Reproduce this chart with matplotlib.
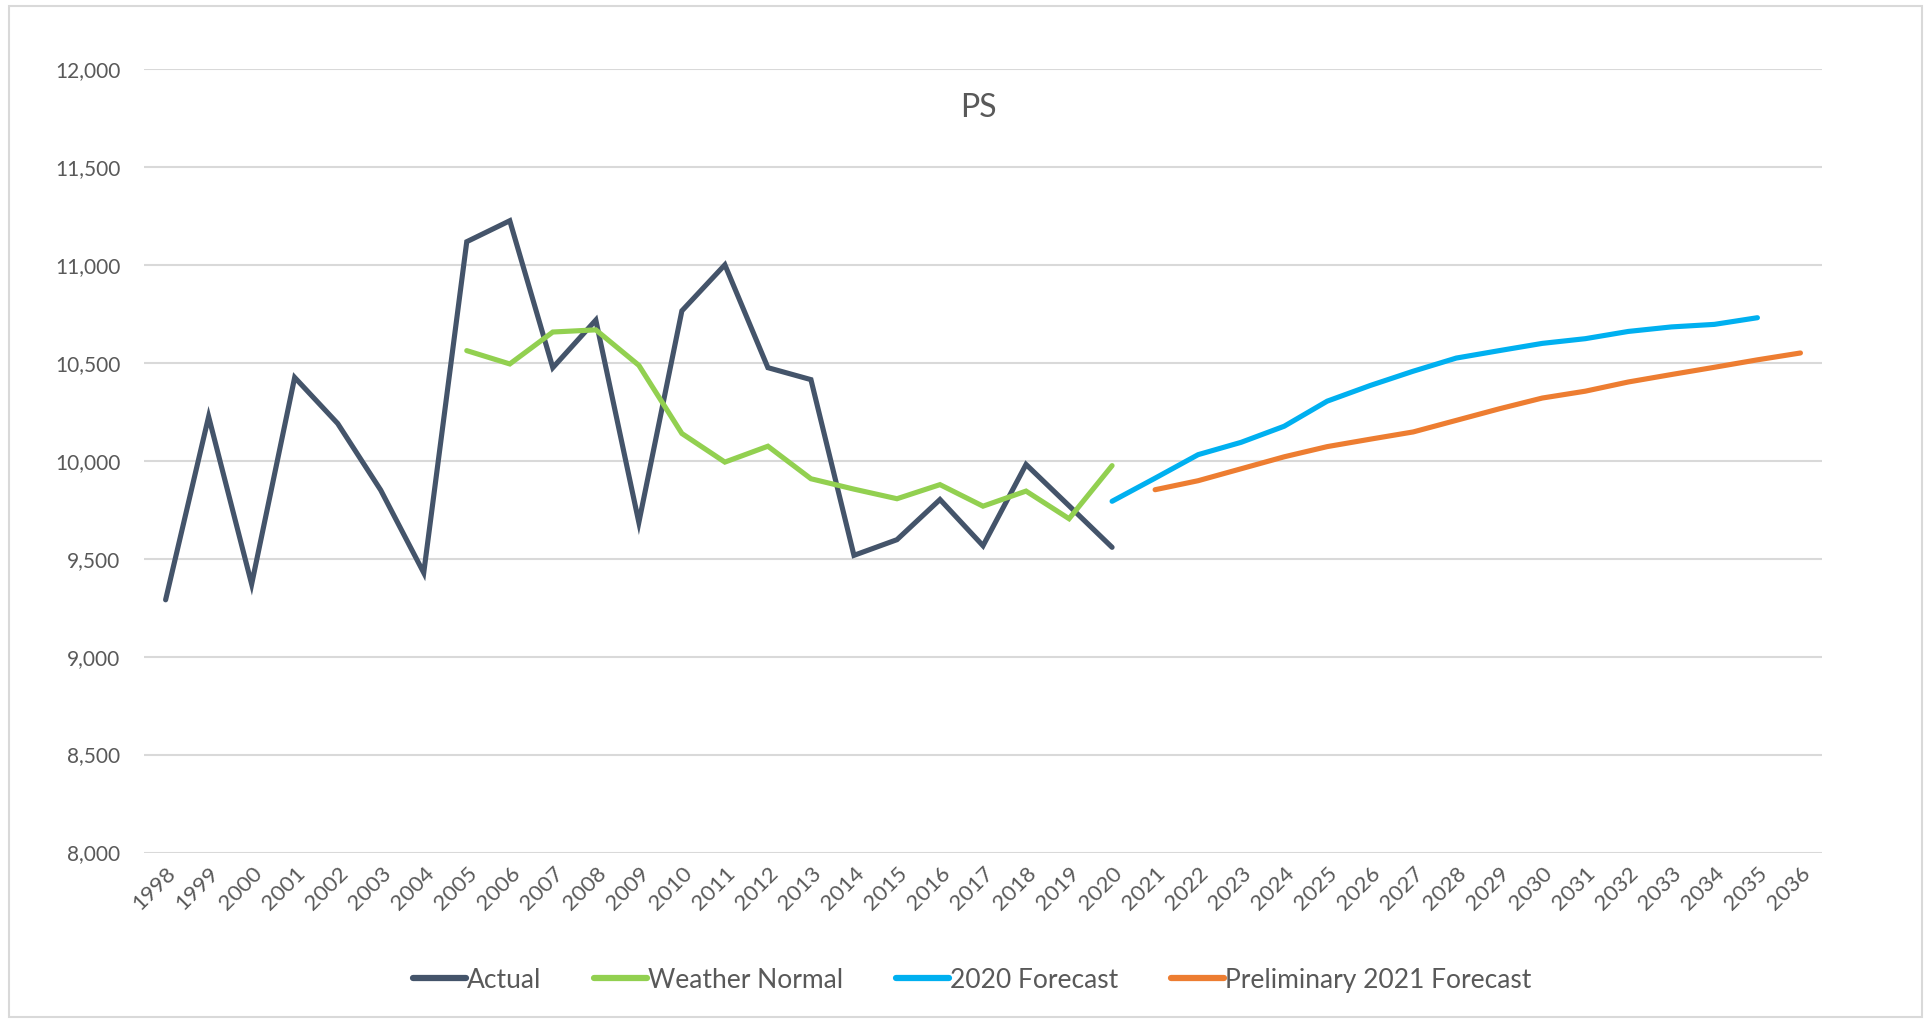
import numpy as np
import matplotlib
matplotlib.use("Agg")
import matplotlib.pyplot as plt
from matplotlib.patches import Rectangle

plt.rcParams['font.family'] = ['Lato', 'DejaVu Sans']

years = list(range(1998, 2037))

actual_years = list(range(1998, 2021))
actual = [9290, 10225, 9370, 10425, 10190, 9850, 9428, 11118, 11225, 10475,
          10718, 9685, 10765, 11000, 10475, 10414, 9517, 9597, 9802, 9566,
          9981, 9770, 9558]

normal_years = list(range(2005, 2021))
weather_normal = [10562, 10494, 10657, 10668, 10487, 10139, 9993, 10074, 9908,
                  9855, 9806, 9878, 9768, 9845, 9704, 9975]

f2020_years = list(range(2020, 2036))
forecast_2020 = [9793, 9911, 10031, 10094, 10176, 10304, 10384, 10457, 10524,
                 10562, 10599, 10623, 10660, 10683, 10696, 10730]

f2021_years = list(range(2021, 2037))
forecast_2021 = [9852, 9898, 9959, 10020, 10072, 10110, 10147, 10206, 10265,
                 10320, 10355, 10402, 10440, 10477, 10515, 10550]

yticks = list(range(8000, 12001, 500))

text_color = '#595959'

fig = plt.figure(figsize=(19.29, 10.21), dpi=100)
ax = fig.add_axes([0.0747, 0.165, 0.8698, 0.7675])

def idx(yrs):
    return [y - years[0] for y in yrs]

lw = 3.7
ax.plot(idx(actual_years), actual, color='#44546A', lw=lw, label='Actual',
        solid_capstyle='round', solid_joinstyle='miter')
ax.plot(idx(normal_years), weather_normal, color='#92D050', lw=lw, label='Weather Normal',
        solid_capstyle='round', solid_joinstyle='miter')
ax.plot(idx(f2020_years), forecast_2020, color='#00B0F0', lw=lw, label='2020 Forecast',
        solid_capstyle='round', solid_joinstyle='miter')
ax.plot(idx(f2021_years), forecast_2021, color='#ED7D31', lw=lw, label='Preliminary 2021 Forecast',
        solid_capstyle='round', solid_joinstyle='miter')

ax.set_xlim(-0.5, len(years) - 0.5)
ax.set_ylim(8000, 12000)
ax.set_yticks(yticks)
ax.set_yticklabels([f'{v:,}' for v in yticks], fontsize=15, color=text_color)
ax.set_xticks(range(len(years)))
ax.set_xticklabels([str(y) for y in years], rotation=45, ha='right',
                   rotation_mode='anchor', fontsize=16, color=text_color)
ax.tick_params(axis='both', length=0)
ax.tick_params(axis='y', pad=17)
ax.tick_params(axis='x', pad=8)
ax.grid(axis='y', color='#D9D9D9', lw=1.5)
ax.set_axisbelow(True)
for s in ax.spines.values():
    s.set_visible(False)

fig.text(0.507, 0.894, 'PS', ha='center', va='center', fontsize=23, color=text_color)

leg = fig.legend(loc='center', bbox_to_anchor=(0.504, 0.04), ncol=4, frameon=False,
                 fontsize=19, handlelength=2.0, handletextpad=0.05, columnspacing=2.0,
                 labelcolor=text_color)
for h in leg.get_lines():
    h.set_linewidth(4.5)
    h.set_solid_capstyle('round')

fig.patches.append(Rectangle((0.0045, 0.004), 0.992, 0.99, transform=fig.transFigure,
                             fill=False, edgecolor='#D9D9D9', lw=1.5))

fig.savefig('out.png', dpi=100, facecolor='white')
